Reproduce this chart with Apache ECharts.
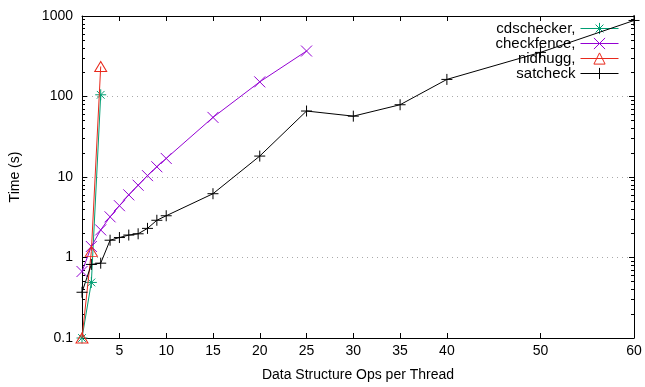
<!DOCTYPE html>
<html><head><meta charset="utf-8">
<script src="https://cdn.jsdelivr.net/npm/echarts@6/dist/echarts.min.js"></script>
<style>html,body{margin:0;padding:0;background:#fff}#c{width:645px;height:387px}</style>
</head><body><div id="c"></div>
<script>
// ---- data ----
const seriesNames = ['cdschecker,', 'checkfence,', 'nidhugg,', 'satcheck'];
const xCds = [1, 2, 3];
const yCds = [0.1, 0.49, 105];
const xCf = [1, 2, 3, 4, 5, 6, 7, 8, 9, 10, 15, 20, 25];
const yCf = [0.67, 1.37, 2.2, 3.2, 4.4, 6.0, 7.9, 10.4, 13.4, 17, 55, 152, 367];
const xNid = [1, 2, 3];
const yNid = [0.1, 1.19, 236];
const xSat = [1, 2, 3, 4, 5, 6, 7, 8, 9, 10, 15, 20, 25, 30, 35, 40, 50, 60];
const ySat = [0.37, 0.82, 0.85, 1.64, 1.77, 1.9, 1.97, 2.3, 2.9, 3.3, 6.2, 18.2, 66, 57, 79, 163, 353, 880];
const xTicks = [5, 10, 15, 20, 25, 30, 35, 40, 50, 60];
const yTicks = [0.1, 1, 10, 100, 1000];
const yMinorTicks = [0.2,0.3,0.4,0.5,0.6,0.7,0.8,0.9, 2,3,4,5,6,7,8,9, 20,30,40,50,60,70,80,90, 200,300,400,500,600,700,800,900];

// ---- style ----
const FONT = '"Liberation Sans", Arial, Helvetica, sans-serif';
const colors = ['#009e73', '#9400d3', '#e8291c', '#000000'];
const symbols = [
  'path://M0,5L10,5M5,0L5,10M1.5,1.5L8.5,8.5M8.5,1.5L1.5,8.5',
  'path://M0,0L10,10M10,0L0,10',
  'path://M5,0L10,9L0,9Z',
  'path://M0,5L10,5M5,0L5,10'
];
const symbolSizes = [11, 11, [12, 10], 11];
const xs = [xCds, xCf, xNid, xSat];
const ys = [yCds, yCf, yNid, ySat];

const chart = echarts.init(document.getElementById('c'), null, {renderer: 'canvas'});
const axisLine = {show: true, lineStyle: {color: '#000', width: 1}};
const series = seriesNames.map((n, i) => ({
  name: n,
  type: 'line',
  xAxisIndex: 0,
  yAxisIndex: 0,
  data: xs[i].map((x, j) => [x, ys[i][j]]),
  symbol: symbols[i],
  symbolSize: symbolSizes[i],
  showAllSymbol: true,
  itemStyle: {color: 'rgba(0,0,0,0)', borderColor: colors[i], borderWidth: 1},
  lineStyle: {color: colors[i], width: 1},
  emphasis: {disabled: true},
  animation: false,
  z: 2 + i
}));

chart.setOption({
  animation: false,
  textStyle: {fontFamily: FONT},
  grid: {left: 82, right: 11, top: 16, bottom: 42, containLabel: false},
  legend: {
    right: 26, top: 21, orient: 'vertical', align: 'right',
    itemWidth: 38, itemHeight: 14, itemGap: 0, padding: 0,
    itemStyle: {borderWidth: 1},
    lineStyle: {width: 1},
    textStyle: {fontFamily: FONT, fontSize: 15, color: '#000'},
    data: seriesNames
  },
  xAxis: [{
    type: 'value', min: 1, max: 60, position: 'bottom',
    name: 'Data Structure Ops per Thread', nameLocation: 'middle', nameGap: 30,
    nameTextStyle: {fontFamily: FONT, fontSize: 14, color: '#000'},
    axisLine: axisLine,
    axisTick: {show: true, inside: true, length: 5, customValues: xTicks, lineStyle: {color: '#000'}},
    axisLabel: {show: true, customValues: xTicks, margin: 6, fontFamily: FONT, fontSize: 14, color: '#000'},
    splitLine: {show: false}
  }, {
    type: 'value', min: 1, max: 60, position: 'top',
    axisLine: axisLine,
    axisTick: {show: true, inside: true, length: 5, customValues: xTicks, lineStyle: {color: '#000'}},
    axisLabel: {show: false},
    splitLine: {show: false}
  }],
  yAxis: [{
    type: 'log', logBase: 10, min: 0.1, max: 1000, position: 'left',
    name: 'Time (s)', nameLocation: 'middle', nameGap: 60, nameRotate: 90,
    nameTextStyle: {fontFamily: FONT, fontSize: 14, color: '#000'},
    axisLine: axisLine,
    axisTick: {show: true, inside: true, length: 5, customValues: yTicks, lineStyle: {color: '#000'}},
    axisLabel: {show: true, customValues: yTicks, margin: 9, fontFamily: FONT, fontSize: 14, color: '#000',
      formatter: v => String(+v.toPrecision(6))},
    splitLine: {show: true, lineStyle: {color: '#aaaaaa', width: 1, type: [1, 4]}}
  }, {
    type: 'log', logBase: 10, min: 0.1, max: 1000, position: 'right',
    axisLine: axisLine,
    axisTick: {show: true, inside: true, length: 5, customValues: yTicks, lineStyle: {color: '#000'}},
    axisLabel: {show: false},
    splitLine: {show: false}
  }, {
    type: 'log', logBase: 10, min: 0.1, max: 1000, position: 'left',
    axisLine: {show: false},
    axisTick: {show: true, inside: true, length: 3, customValues: yMinorTicks, lineStyle: {color: '#000'}},
    axisLabel: {show: false},
    splitLine: {show: false}
  }, {
    type: 'log', logBase: 10, min: 0.1, max: 1000, position: 'right',
    axisLine: {show: false},
    axisTick: {show: true, inside: true, length: 3, customValues: yMinorTicks, lineStyle: {color: '#000'}},
    axisLabel: {show: false},
    splitLine: {show: false}
  }],
  series: series
});
</script>
</body></html>
